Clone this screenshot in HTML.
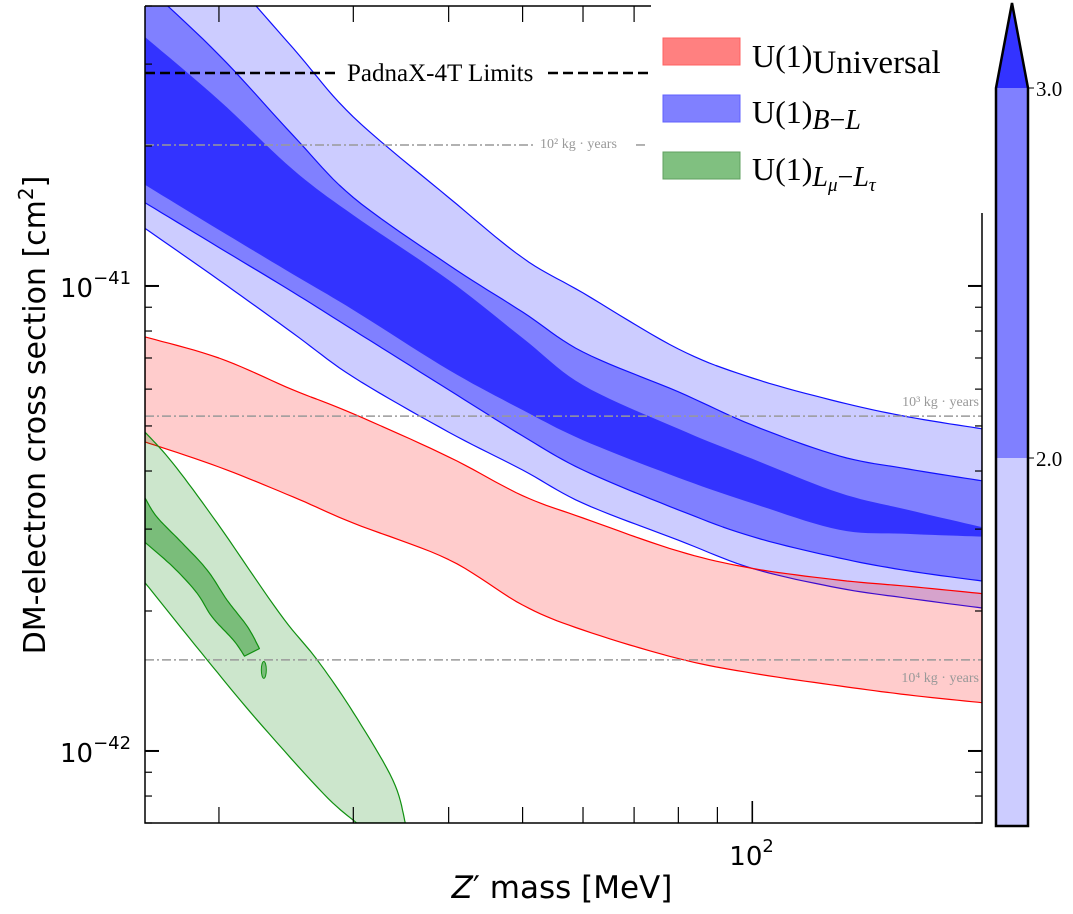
<!DOCTYPE html>
<html><head><meta charset="utf-8"><style>
body{margin:0;background:#fff;width:1073px;height:914px;overflow:hidden}
svg{display:block}
</style></head><body>
<svg id="chart" width="1073" height="914" xmlns="http://www.w3.org/2000/svg" style="position:absolute;left:0;top:0">
<defs><clipPath id="clip"><rect x="145" y="6" width="837" height="817"/></clipPath></defs>
<g id="plot" clip-path="url(#clip)"></g>
<g id="axes"></g>
</svg>
<script>
const masses=[16,20,25,30,40,50,60,80,100,130,160,200];
// values in units of 1e-42 cm^2
const blLightUpper=[74.7,49.3,32.5,23.1,15.5,11.5,9.66,7.32,6.34,5.63,5.23,4.93];
const blLightLower=[13.3,10.3,7.92,6.37,4.85,4.02,3.41,2.84,2.47,2.24,2.13,2.03];
const blMedUpper=[44.4,31.4,21.1,15.5,11.1,8.79,7.21,5.92,5.02,4.31,4.04,3.81];
const blMedLower=[15.1,12.1,9.70,8.04,5.98,4.76,4.02,3.30,2.89,2.60,2.44,2.32];
const blDarkUpper=[34.3,25.1,17.8,14.2,10.3,7.73,6.12,4.93,4.25,3.59,3.30,3.03];
const blDarkLower=[16.5,13.2,10.6,8.88,6.60,5.41,4.66,3.87,3.41,2.99,2.93,2.89];
const uniUpper=[7.77,7.00,5.98,5.31,4.29,3.54,3.17,2.69,2.47,2.33,2.26,2.18];
const uniLower=[4.62,4.08,3.52,3.09,2.58,2.06,1.82,1.58,1.47,1.38,1.32,1.27];
const lmtOuterUpperM=[16,17.4,19.9,24.0,26.9,30,33.8,35.1];
const lmtOuterUpperV=[4.85,4.16,3.09,1.98,1.57,1.21,0.866,0.70];
const lmtOuterLowerM=[16,19.3,22.4,27.4,30.3];
const lmtOuterLowerV=[2.30,1.57,1.17,0.81,0.70];
const lmtInnerUpperM=[16,16.6,17.9,19.3,20.5,21.8,22.6];
const lmtInnerUpperV=[3.50,3.18,2.80,2.45,2.11,1.85,1.66];
const lmtInnerLowerM=[16,17.4,18.7,19.6,20.9,21.6];
const lmtInnerLowerV=[2.81,2.49,2.19,1.94,1.73,1.60];
const exposureLabels=["10² kg · years","10³ kg · years","10⁴ kg · years"];
const exposureValues=[20.1,5.25,1.57];
const padnaxValue=28.7;
const yMajorTicks=[1,10];
const yMajorLabels=["−42","−41"];
const xMinorTicks=[20,30,40,50,60,70,80,90];

const NS="http://www.w3.org/2000/svg";
const X0=145,X1=982,Y0=6,Y1=823;
const lx0=Math.log10(16),lx1=Math.log10(200);
const ly0=Math.log10(0.7),ly1=Math.log10(40);
function xs(m){return X0+(Math.log10(m)-lx0)/(lx1-lx0)*(X1-X0);}
function ys(v){return Y1-(Math.log10(v)-ly0)/(ly1-ly0)*(Y1-Y0);}
const plot=document.getElementById('plot'),axes=document.getElementById('axes');
function mk(tag,attrs,parent){const e=document.createElementNS(NS,tag);for(const k in attrs)e.setAttribute(k,attrs[k]);(parent||plot).appendChild(e);return e;}
function smooth(pts){
  const out=[pts[0]];
  for(let i=0;i<pts.length-1;i++){
    const p0=pts[Math.max(0,i-1)],p1=pts[i],p2=pts[i+1],p3=pts[Math.min(pts.length-1,i+2)];
    for(let t=0.1;t<=1.0001;t+=0.1){
      const t2=t*t,t3=t2*t;
      const f=(a,b,c,d)=>0.5*((2*b)+(-a+c)*t+(2*a-5*b+4*c-d)*t2+(-a+3*b-3*c+d)*t3);
      out.push([f(p0[0],p1[0],p2[0],p3[0]),f(p0[1],p1[1],p2[1],p3[1])]);
    }
  }
  return out;
}
function band(mU,vU,mL,vL,fill,stroke,name){
  const up=smooth(mU.map((m,i)=>[xs(m),ys(vU[i])]));
  const lo=smooth(mL.map((m,i)=>[xs(m),ys(vL[i])])).reverse();
  const all=up.concat(lo);
  const d="M"+all.map(p=>p[0].toFixed(1)+","+p[1].toFixed(1)).join("L")+"Z";
  const p=mk('path',{d:d,fill:fill,stroke:stroke,'stroke-width':1.2,'stroke-linejoin':'round'});
  
  
}
band(masses,blLightUpper,masses,blLightLower,'#ccccff','#1010ff','bl-band-outer');
band(masses,blMedUpper,masses,blMedLower,'#8080ff','#1010ff','bl-band-middle');
band(masses,blDarkUpper,masses,blDarkLower,'#3333ff','none','bl-band-inner');
band(masses,uniUpper,masses,uniLower,'rgba(255,0,0,0.2)','#ff0000','universal-band');
band(lmtOuterUpperM,lmtOuterUpperV,lmtOuterLowerM,lmtOuterLowerV,'rgba(0,128,0,0.2)','#109010','lmu-ltau-band-outer');
band(lmtInnerUpperM,lmtInnerUpperV,lmtInnerLowerM,lmtInnerLowerV,'rgba(0,128,0,0.4)','#109010','lmu-ltau-band-inner');
const isl=mk('ellipse',{cx:xs(22.9),cy:(ys(1.55)+ys(1.44))/2,rx:2.5,ry:(ys(1.44)-ys(1.55))/2+1,fill:'rgba(0,128,0,0.4)',stroke:'#109010','stroke-width':1});



const lineSegs=[[145,535,540,"start",-1],[145,982,979,"end",-14],[145,982,979,"end",18]];
exposureValues.forEach((v,i)=>{
  const y=ys(v);
  const l=mk('line',{x1:lineSegs[i][0],x2:lineSegs[i][1],y1:y,y2:y,stroke:'#999','stroke-width':1.5,'stroke-dasharray':'9,3,2,3'},axes);
  
  
  const t=mk('text',{x:lineSegs[i][2],y:y+lineSegs[i][4]+4,'font-family':'Liberation Serif, serif','font-size':14,fill:'#999','text-anchor':lineSegs[i][3]},axes);
  t.textContent=exposureLabels[i];
  
  
});
{const y=ys(exposureValues[0]);
const l=mk('line',{x1:636,x2:648,y1:y,y2:y,stroke:'#999','stroke-width':1.5,'stroke-dasharray':'9,3,2,3'},axes);

}
{const y=ys(padnaxValue);
const a=mk('line',{x1:145,x2:338,y1:y,y2:y,stroke:'#000','stroke-width':2.5,'stroke-dasharray':'10,5'},axes);


const b=mk('line',{x1:548,x2:650,y1:y,y2:y,stroke:'#000','stroke-width':2.5,'stroke-dasharray':'10,5'},axes);


const t=mk('text',{x:347,y:y+8,'font-family':'Liberation Serif, serif','font-size':25,fill:'#000'},axes);
t.textContent="PadnaX-4T Limits";

}

const lb=mk('rect',{x:651,y:0,width:335,height:212,fill:'#fff'},axes);



const fr=mk('path',{d:`M145,${Y0}H651M145,${Y0}V${Y1}H${X1}V213`,fill:'none',stroke:'#000','stroke-width':1.5},axes);



for(let dec=0.1;dec<=10;dec*=10){for(let k=1;k<=9;k++){const v=dec*k;if(v<0.7||v>40)continue;
  const y=ys(v);const major=(k===1);const len=major?14:7;
  const t1=mk('line',{x1:145,x2:145+len,y1:y,y2:y,stroke:'#000','stroke-width':major?2:1.2},axes);
  
  
  if(y>213){const t2=mk('line',{x1:X1-len,x2:X1,y1:y,y2:y,stroke:'#000','stroke-width':major?2:1.2},axes);
  
  }
}}
yMajorTicks.forEach((v,i)=>{const y=ys(v);
  const t=mk('text',{x:60,y:y+11,'font-family':'DejaVu Sans, sans-serif','font-size':26,fill:'#000'},axes);
  t.innerHTML='10<tspan dy="-13" font-size="18">'+yMajorLabels[i]+'</tspan>';
  
  
});
xMinorTicks.forEach(m=>{const x=xs(m);
  const a=mk('line',{x1:x,x2:x,y1:Y1,y2:Y1-16,stroke:'#000','stroke-width':1.2},axes);
  
  
  if(x<651){const b=mk('line',{x1:x,x2:x,y1:Y0,y2:Y0+16,stroke:'#000','stroke-width':1.2},axes);
  
  }
});
{const x=xs(100);
const a=mk('line',{x1:x,x2:x,y1:Y1,y2:Y1-22,stroke:'#000','stroke-width':1.6},axes);


const t=mk('text',{x:x-23,y:865,'font-family':'DejaVu Sans, sans-serif','font-size':26,fill:'#000'},axes);
t.innerHTML='10<tspan dy="-13" font-size="18">2</tspan>';

}
</script>
<svg width="1073" height="914" xmlns="http://www.w3.org/2000/svg" style="position:absolute;left:0;top:0">
<text x="562" y="898" text-anchor="middle" font-family="DejaVu Sans, sans-serif" font-size="31"><tspan font-style="italic">Z</tspan>′ mass [MeV]</text>
<text transform="translate(45,415) rotate(-90)" text-anchor="middle" font-family="DejaVu Sans, sans-serif" font-size="30">DM-electron cross section [cm<tspan dy="-12" font-size="20">2</tspan><tspan dy="12">]</tspan></text>
<g>
<rect x="663" y="38" width="77" height="27" fill="#ff8080" stroke="#ff6060"/>
<text x="752" y="67" font-family="Liberation Serif, serif" font-size="32">U(1)<tspan font-size="33" dy="6">Universal</tspan></text></g>
<g>
<rect x="663" y="95" width="77" height="27" fill="#8080ff" stroke="#6060ff"/>
<text x="752" y="123" font-family="Liberation Serif, serif" font-size="32">U(1)<tspan font-size="28" dy="6" font-style="italic">B</tspan><tspan font-size="28">−</tspan><tspan font-size="28" font-style="italic">L</tspan></text></g>
<g>
<rect x="663" y="152" width="77" height="27" fill="#80c080" stroke="#60a060"/>
<text x="752" y="180" font-family="Liberation Serif, serif" font-size="32">U(1)<tspan font-size="28" dy="6" font-style="italic">L</tspan><tspan font-size="19" dy="5" font-style="italic">μ</tspan><tspan font-size="28" dy="-5">−</tspan><tspan font-size="28" font-style="italic">L</tspan><tspan font-size="19" dy="5" font-style="italic">τ</tspan></text></g>
<g>
<rect x="996" y="88" width="32" height="370" fill="#8080ff"/>
<rect x="996" y="458" width="32" height="368" fill="#ccccff"/>
<polygon points="996,88 1012,3 1028,88" fill="#3333ff"/>
<path d="M996,826V88L1012,3L1028,88V826Z" fill="none" stroke="#000" stroke-width="2.5"/>
<line x1="1028" x2="1034" y1="88" y2="88" stroke="#000"/>
<line x1="1028" x2="1034" y1="458" y2="458" stroke="#000"/>
<text x="1036" y="96" font-family="Liberation Serif, serif" font-size="21">3.0</text>
<text x="1036" y="466" font-family="Liberation Serif, serif" font-size="21">2.0</text>
</g>
</svg>
</body></html>
